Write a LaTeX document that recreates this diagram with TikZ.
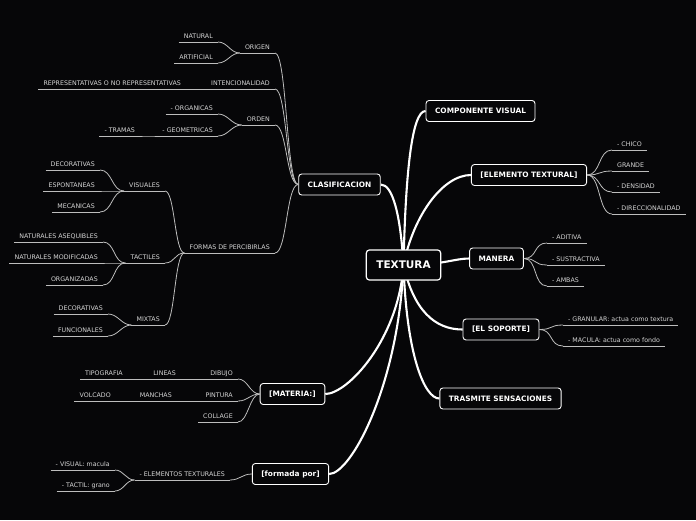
\documentclass[tikz,border=0pt]{standalone}
\usepackage{fontspec}
\setmainfont{DejaVu Sans}
\usetikzlibrary{backgrounds}
\definecolor{bg}{HTML}{060608}
\definecolor{leaftext}{HTML}{D6D6D6}
\definecolor{subline}{HTML}{BDBDBD}

\begin{document}
\begin{tikzpicture}[x=1pt, y=-1pt,
    root/.style={draw=white, fill=bg, rounded corners=3pt, line width=1.2pt, text=white,
        font=\bfseries\fontsize{10.5}{12}\selectfont, minimum height=30pt, inner xsep=10pt},
    topic/.style={draw=white, fill=bg, rounded corners=3pt, line width=0.9pt, text=white,
        font=\bfseries\fontsize{7.4}{8}\selectfont, minimum height=21pt, inner xsep=9pt},
    leaf/.style={font=\fontsize{6.3}{7}\selectfont, text=leaftext, inner xsep=5pt, inner ysep=2pt,
        text height=4.6pt, text depth=1.2pt},
    lleaf/.style={leaf, anchor=south east},
    rleaf/.style={leaf, anchor=south west},
    trunk/.style={white, line width=2.1pt},
    sub/.style={subline, line width=0.8pt},
    tol/.style={out=180, in=0},
    tor/.style={out=0, in=180}
]
\useasboundingbox (0,0) rectangle (696,520);
\begin{pgfonlayer}{background}
\fill[bg] (0,0) rectangle (696,520);
\end{pgfonlayer}

% main topics
\node[root] (textura) at (403.5,265) {TEXTURA};
\node[topic] (compvis) at (480.5,111) {COMPONENTE VISUAL};
\node[topic] (elemtex) at (529,175) {[ELEMENTO TEXTURAL]};
\node[topic] (manera) at (496.5,258.5) {MANERA};
\node[topic] (soporte) at (501,329.5) {[EL SOPORTE]};
\node[topic] (trasmite) at (500.5,398.5) {TRASMITE SENSACIONES};
\node[topic] (clas) at (339.5,184.5) {CLASIFICACION};
\node[topic] (materia) at (292.5,394) {[MATERIA:]};
\node[topic] (formada) at (290.5,474) {[formada por]};

% right side leaves
\node[rleaf] (chico) at (612,150) {- CHICO};
\node[rleaf] (grande) at (612,171) {GRANDE};
\node[rleaf] (densidad) at (612,192) {- DENSIDAD};
\node[rleaf] (direcc) at (612,214) {- DIRECCIONALIDAD};
\node[rleaf] (aditiva) at (547,243) {- ADITIVA};
\node[rleaf] (sustrac) at (547,265) {- SUSTRACTIVA};
\node[rleaf] (ambas) at (547,286) {- AMBAS};
\node[rleaf] (granular) at (563,325) {- GRANULAR: actua como textura};
\node[rleaf] (macula) at (563,346) {- MACULA: actua como fondo};

% clasificacion
\node[lleaf] (origen) at (275,53) {ORIGEN};
\node[lleaf] (natural) at (218,42) {NATURAL};
\node[lleaf] (artif) at (218,63) {ARTIFICIAL};
\node[lleaf] (intenc) at (275,89) {INTENCIONALIDAD};
\node[lleaf] (repres) at (186,89) {REPRESENTATIVAS O NO REPRESENTATIVAS};
\node[lleaf] (orden) at (275,125) {ORDEN};
\node[lleaf] (organicas) at (218,114) {- ORGANICAS};
\node[lleaf] (geomet) at (218,136) {- GEOMETRICAS};
\node[lleaf] (tramas) at (140,136) {- TRAMAS};
\node[lleaf] (formas) at (275,253) {FORMAS DE PERCIBIRLAS};
\node[lleaf] (visuales) at (165,191) {VISUALES};
\node[lleaf] (decor) at (100,170) {DECORATIVAS};
\node[lleaf] (espont) at (100,191) {ESPONTANEAS};
\node[lleaf] (mecan) at (100,212) {MECANICAS};
\node[lleaf] (tactiles) at (165,263) {TACTILES};
\node[lleaf] (aseq) at (103,242) {NATURALES ASEQUIBLES};
\node[lleaf] (modif) at (103,263) {NATURALES MODIFICADAS};
\node[lleaf] (organiz) at (103,285) {ORGANIZADAS};
\node[lleaf] (mixtas) at (165,325) {MIXTAS};
\node[lleaf] (decorb) at (108,314) {DECORATIVAS};
\node[lleaf] (funcion) at (108,336) {FUNCIONALES};

% materia
\node[lleaf] (dibujo) at (238,379) {DIBUJO};
\node[lleaf] (lineas) at (181,379) {LINEAS};
\node[lleaf] (tipogr) at (128,379) {TIPOGRAFIA};
\node[lleaf] (pintura) at (238,401) {PINTURA};
\node[lleaf] (manchas) at (177,401) {MANCHAS};
\node[lleaf] (volcado) at (116,401) {VOLCADO};
\node[lleaf] (collage) at (238,422) {COLLAGE};

% formada por
\node[lleaf] (elemtx) at (230,480) {- ELEMENTOS TEXTURALES};
\node[lleaf] (visualm) at (115,470) {- VISUAL: macula};
\node[lleaf] (tactilg) at (115,491) {- TACTIL: grano};

% underlines
\foreach \n in {chico,grande,densidad,direcc,aditiva,sustrac,ambas,granular,macula,
    origen,natural,artif,intenc,repres,orden,organicas,geomet,tramas,formas,
    visuales,decor,espont,mecan,tactiles,aseq,modif,organiz,mixtas,decorb,funcion,
    dibujo,lineas,tipogr,pintura,manchas,volcado,collage,elemtx,visualm,tactilg}
    \draw[sub] (\n.south west) -- (\n.south east);

% trunk connectors
\begin{pgfonlayer}{background}
\draw[trunk] (textura.center) .. controls +(-3,-50) and +(12,0) .. (clas.east);
\draw[trunk] (textura.center) .. controls +(2,-90) and +(-14,0) .. (compvis.west);
\draw[trunk] (textura.center) .. controls +(10,-50) and +(-28,0) .. (elemtex.west);
\draw[trunk] (textura.center) .. controls +(40,0) and +(-15,0) .. (manera.west);
\draw[trunk] (textura.center) .. controls +(10,45) and +(-28,0) .. (soporte.west);
\draw[trunk] (textura.center) .. controls +(3,90) and +(-15,0) .. (trasmite.west);
\draw[trunk] (textura.center) .. controls +(-5,75) and +(22,0) .. (materia.east);
\draw[trunk] (textura.center) .. controls +(-5,120) and +(22,0) .. (formada.east);
\end{pgfonlayer}

% right branches
\foreach \n in {chico,grande,densidad,direcc}
    \draw[sub] (elemtex.east) to[tor, distance=14pt] (\n.south west);
\foreach \n in {aditiva,sustrac,ambas}
    \draw[sub] (manera.east) to[tor, distance=14pt] (\n.south west);
\foreach \n in {granular,macula}
    \draw[sub] (soporte.east) to[tor, distance=14pt] (\n.south west);

% clasificacion branches
\foreach \n in {origen,intenc,orden,formas}
    \draw[sub] (clas.west) to[tol, distance=12pt] (\n.south east);
\foreach \n in {natural,artif}
    \draw[sub] (\n.south east) to[tor] (origen.south west);
\draw[sub] (repres.south east) -- (intenc.south west);
\foreach \n in {organicas,geomet}
    \draw[sub] (\n.south east) to[tor] (orden.south west);
\draw[sub] (tramas.south east) to[tor] (geomet.south west);
\foreach \n in {visuales,tactiles,mixtas}
    \draw[sub] (\n.south east) to[tor, distance=10pt] (formas.south west);
\foreach \n in {decor,espont,mecan}
    \draw[sub] (\n.south east) to[tor] (visuales.south west);
\foreach \n in {aseq,modif,organiz}
    \draw[sub] (\n.south east) to[tor] (tactiles.south west);
\foreach \n in {decorb,funcion}
    \draw[sub] (\n.south east) to[tor] (mixtas.south west);

% materia branches
\foreach \n in {dibujo,pintura,collage}
    \draw[sub] (\n.south east) to[tor, distance=10pt] (materia.west);
\draw[sub] (lineas.south east) -- (dibujo.south west);
\draw[sub] (tipogr.south east) -- (lineas.south west);
\draw[sub] (manchas.south east) -- (pintura.south west);
\draw[sub] (volcado.south east) -- (manchas.south west);

% formada por branches
\draw[sub] (elemtx.south east) to[tor, distance=10pt] (formada.west);
\foreach \n in {visualm,tactilg}
    \draw[sub] (\n.south east) to[tor] (elemtx.south west);
\end{tikzpicture}
\end{document}
